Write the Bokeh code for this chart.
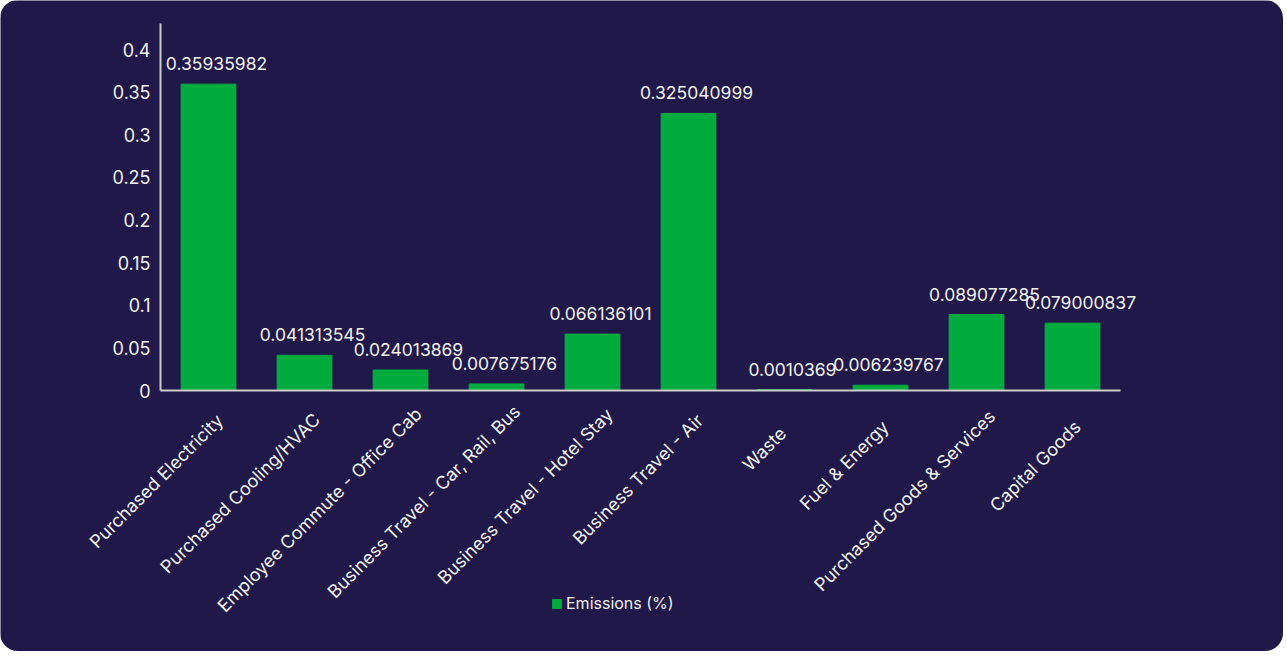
import math
from bokeh.plotting import figure
from bokeh.models import ColumnDataSource, FixedTicker, Legend, LegendItem, Range1d
from bokeh.core.properties import value
from bokeh.embed import file_html
from bokeh.resources import INLINE

categories = ["Purchased Electricity", "Purchased Cooling/HVAC", "Employee Commute - Office Cab",
              "Business Travel - Car, Rail, Bus", "Business Travel - Hotel Stay", "Business Travel - Air",
              "Waste", "Fuel & Energy", "Purchased Goods & Services", "Capital Goods"]
values = [0.35935982, 0.041313545, 0.024013869, 0.007675176, 0.066136101, 0.325040999,
          0.0010369, 0.006239767, 0.089077285, 0.079000837]
value_labels = ["0.35935982", "0.041313545", "0.024013869", "0.007675176", "0.066136101",
                "0.325040999", "0.0010369", "0.006239767", "0.089077285", "0.079000837"]
y_ticks = [0, 0.05, 0.1, 0.15, 0.2, 0.25, 0.3, 0.35, 0.4]
y_tick_labels = ["0", "0.05", "0.1", "0.15", "0.2", "0.25", "0.3", "0.35", "0.4"]
series_name = "Emissions (%)"

BG = "#201848"
GREEN = "#00AC3E"
TXT = "#F2F2F2"
FONT = "Inter"

W, H = 1283, 651
FRAME_L, FRAME_W = 160, 960          # plotting area (px) inside the figure
ZERO_PX, PX_PER_UNIT = 390, 852.5    # y=0 line position from top, px per value unit
n = len(categories)
cat_w = FRAME_W / n
xpos = [i + 0.5 for i in range(n)]

# rotated category label placement (screen px offsets from tick at the zero line)
c45 = math.cos(math.pi / 4)
perp = 27.0
along = [-35 + 1.15 * len(c) for c in categories]
lab_dx = [c45 * (perp + a) for a in along]
lab_dy = [c45 * (perp - a) for a in along]

src = ColumnDataSource(dict(x=xpos, cat=categories, val=values, lab=value_labels,
                            zero=[0] * n, dx=lab_dx, dy=lab_dy))

x_range = Range1d(-FRAME_L / cat_w, n + (W - FRAME_L - FRAME_W) / cat_w)
y_range = Range1d(-(H - ZERO_PX) / PX_PER_UNIT, ZERO_PX / PX_PER_UNIT)

p = figure(x_range=x_range, y_range=y_range, width=W, height=H,
           output_backend="svg", toolbar_location=None,
           min_border=0, min_border_left=0, min_border_right=0,
           min_border_top=0, min_border_bottom=0)
p.background_fill_color = BG
p.border_fill_color = BG
p.outline_line_color = None
p.grid.grid_line_color = None
p.styles = {"border-radius": "18px", "overflow": "hidden"}

r = p.vbar(x="x", top="val", width=0.57, source=src, fill_color=GREEN, line_color=GREEN)

p.text(x="x", y="val", text="lab", source=src, text_align="center",
       text_baseline="bottom", y_offset=-14, x_offset=8, text_color=TXT,
       text_font=value(FONT), text_font_size="17.5px")

# category labels, rotated 45 degrees
p.text(x="x", y="zero", text="cat", source=src, angle=math.pi / 4,
       text_align="right", text_baseline="alphabetic",
       x_offset="dx", y_offset="dy", text_color=TXT,
       text_font=value(FONT), text_font_size="18px")

p.xaxis.fixed_location = 0
p.yaxis.fixed_location = 0
p.xaxis.bounds = (0, n)
p.yaxis.bounds = (0, 0.43)
p.yaxis.ticker = FixedTicker(ticks=y_ticks)
p.yaxis.major_label_overrides = {t: l for t, l in zip(y_ticks, y_tick_labels)}
p.xaxis.ticker = FixedTicker(ticks=[])
for ax in (p.xaxis, p.yaxis):
    ax.axis_line_color = "#CCCCCC"
    ax.axis_line_width = 2
    ax.major_tick_line_color = None
    ax.minor_tick_line_color = None
    ax.major_label_text_color = TXT
    ax.major_label_text_font = FONT
ya = p.yaxis[0]
ya.major_label_text_font_size = "18px"
ya.major_label_standoff = 4

legend = Legend(items=[LegendItem(label=series_name, renderers=[r])],
                location=(551, 38), orientation="horizontal",
                background_fill_alpha=0, border_line_color=None,
                label_text_color=TXT, label_text_font=FONT, label_text_font_size="16px",
                glyph_width=11, glyph_height=11, label_standoff=4, padding=0, margin=0)
p.add_layout(legend, "center")

open("out.html", "w").write(file_html(p, INLINE))
